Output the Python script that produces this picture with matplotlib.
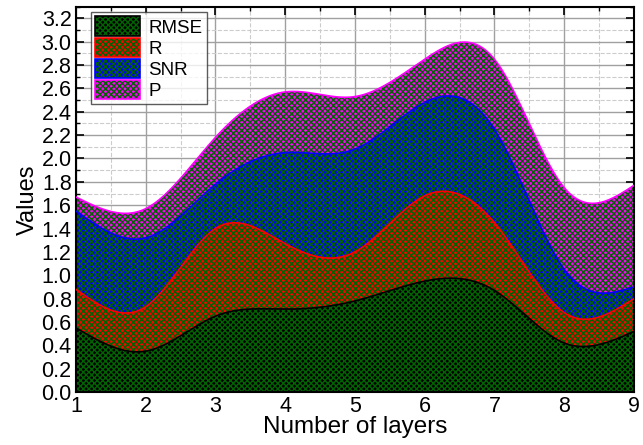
import numpy as np
import matplotlib
matplotlib.use('Agg')
import matplotlib.pyplot as plt
from matplotlib.ticker import MultipleLocator, FormatStrFormatter
from matplotlib.patches import Patch
from matplotlib.legend_handler import HandlerTuple

plt.rcParams['font.family'] = ['Liberation Sans', 'DejaVu Sans']
plt.rcParams['hatch.linewidth'] = 1.0

# data at each number of layers (individual series, stacked in the plot)
layers = [1, 2, 3, 4, 5, 6, 7, 8, 9]
rmse = [0.55, 0.35, 0.65, 0.71, 0.78, 0.95, 0.87, 0.42, 0.52]
r = [0.33, 0.38, 0.75, 0.56, 0.42, 0.73, 0.58, 0.26, 0.28]
snr = [0.67, 0.59, 0.38, 0.78, 0.88, 0.80, 0.80, 0.37, 0.10]
p = [0.12, 0.25, 0.40, 0.52, 0.45, 0.37, 0.60, 0.70, 0.87]

names = ['RMSE', 'R', 'SNR', 'P']
face_colors = ['#000000', '#ff0000', '#0000ff', '#ff00ff']
line_colors = ['#000000', '#ff0000', '#0000ff', '#ff00ff']
hatch_green = '#006400'


def natural_spline(x, y, xs):
    # natural cubic spline, only used to draw smooth curves through the points
    x = np.asarray(x, float)
    y = np.asarray(y, float)
    n = len(x)
    h = np.diff(x)
    A = np.zeros((n, n))
    b = np.zeros(n)
    A[0, 0] = 1
    A[-1, -1] = 1
    for i in range(1, n - 1):
        A[i, i - 1] = h[i - 1]
        A[i, i] = 2 * (h[i - 1] + h[i])
        A[i, i + 1] = h[i]
        b[i] = 3 * ((y[i + 1] - y[i]) / h[i] - (y[i] - y[i - 1]) / h[i - 1])
    c = np.linalg.solve(A, b)
    out = np.zeros_like(xs)
    for k, xv in enumerate(xs):
        i = min(np.searchsorted(x, xv) - 1, n - 2)
        i = max(i, 0)
        dx = xv - x[i]
        bb = (y[i + 1] - y[i]) / h[i] - h[i] * (2 * c[i] + c[i + 1]) / 3
        d = (c[i + 1] - c[i]) / (3 * h[i])
        out[k] = y[i] + bb * dx + c[i] * dx ** 2 + d * dx ** 3
    return out


fig = plt.figure(figsize=(6.43, 4.45), dpi=100)
ax = fig.add_axes([0.118, 0.119, 0.868, 0.866])

xs = np.linspace(1, 9, 600)
bottom = np.zeros_like(xs)
for vals, name, fc, lc in zip([rmse, r, snr, p], names, face_colors, line_colors):
    top = bottom + natural_spline(layers, vals, xs)
    ax.fill_between(xs, bottom, top, facecolor=fc, edgecolor=hatch_green,
                    hatch='xxxxxx', linewidth=0, zorder=2)
    ax.plot(xs, top, color=lc, lw=1.2, zorder=3)
    bottom = top

# legend handles: hatched patch plus a coloured border on top
handles = [(Patch(facecolor=fc, edgecolor=hatch_green, hatch='xxxxxx', linewidth=0),
            Patch(facecolor='none', edgecolor=lc, linewidth=1.2))
           for fc, lc in zip(face_colors, line_colors)]
leg = ax.legend(handles, names, loc='upper left', bbox_to_anchor=(0.02, 0.995),
                fontsize=13.5, frameon=True, fancybox=False, edgecolor='#333333',
                handlelength=2.4, handleheight=1.22, labelspacing=0.06,
                borderpad=0.22, handletextpad=0.45, borderaxespad=0.2,
                handler_map={tuple: HandlerTuple(ndivide=1, pad=0)})
leg.get_frame().set_linewidth(1.0)

ax.set_xlim(1, 9)
ax.xaxis.set_major_locator(MultipleLocator(1))
ax.xaxis.set_minor_locator(MultipleLocator(0.5))
ax.yaxis.set_minor_locator(MultipleLocator(0.1))
ax.yaxis.set_major_formatter(FormatStrFormatter('%.1f'))
ax.set_yticks(np.arange(0, 3.21, 0.2))
ax.set_ylim(0, 3.3)

ax.grid(which='major', color='#a0a0a0', linestyle='-', linewidth=1.0, zorder=0)
ax.grid(which='minor', color='#cccccc', linestyle='--', linewidth=0.8, zorder=0)
ax.set_axisbelow(True)

ax.tick_params(which='both', direction='in', top=True, right=True, labelsize=15.5)
ax.tick_params(which='major', length=6, width=1.2, pad=3)
ax.tick_params(which='minor', length=3, width=1.0)
for s in ax.spines.values():
    s.set_linewidth(1.5)

ax.set_xlabel('Number of layers', fontsize=17.5, labelpad=-1)
ax.set_ylabel('Values', fontsize=17, labelpad=2)

fig.savefig('out.png', dpi=100)
